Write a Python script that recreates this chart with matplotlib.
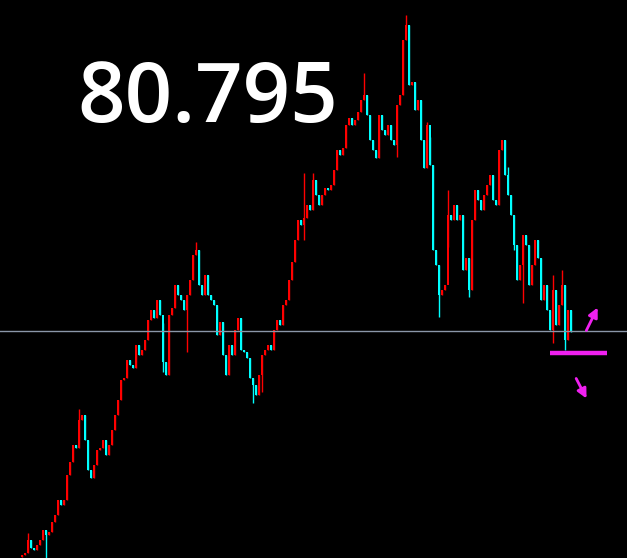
import matplotlib
matplotlib.use("Agg")
import matplotlib.pyplot as plt
import numpy as np

# closing prices, one per bar
closes = [
    78.56, 78.58, 78.71, 78.63, 78.61, 78.66, 78.71, 78.81, 78.76, 78.79,
    78.89, 78.96, 79.11, 79.06, 79.11, 79.36, 79.49, 79.66, 79.63, 79.91,
    79.96, 79.71, 79.41, 79.33, 79.46, 79.61, 79.63, 79.71, 79.56, 79.66,
    79.81, 79.96, 80.11, 80.31, 80.33, 80.51, 80.46, 80.43, 80.66, 80.56,
    80.61, 80.71, 80.91, 81.01, 80.93, 81.11, 80.96, 80.49, 80.36, 80.96,
    81.03, 81.26, 81.16, 81.11, 81.01, 81.16, 81.31, 81.56, 81.61, 81.26,
    81.16, 81.36, 81.16, 81.11, 81.06, 80.76, 80.89, 80.56, 80.36, 80.66,
    80.56, 80.81, 80.93, 80.61, 80.59, 80.53, 80.33, 80.26, 80.16, 80.36,
    80.56, 80.61, 80.66, 80.61, 80.81, 80.91, 80.86, 81.06, 81.11, 81.31,
    81.49, 81.71, 81.91, 81.86, 81.93, 82.06, 82.01, 82.31, 82.16, 82.06,
    82.16, 82.23, 82.21, 82.26, 82.41, 82.61, 82.56, 82.63, 82.86, 82.93,
    82.86, 82.91, 82.99, 83.11, 83.16, 82.96, 82.71, 82.61, 82.53, 82.96,
    82.81, 82.76, 82.86, 82.71, 82.66, 83.06, 83.16, 83.71, 83.86, 83.26,
    83.29, 83.01, 83.11, 82.71, 82.43, 82.86, 82.46, 81.61, 81.46, 81.16,
    81.21, 81.26, 81.96, 81.91, 82.06, 81.91, 81.96, 81.41, 81.53, 81.21,
    81.91, 82.21, 82.11, 82.01, 82.16, 82.26, 82.36, 82.11, 82.06, 82.61,
    82.71, 82.36, 82.16, 81.96, 81.66, 81.31, 81.46, 81.76, 81.66, 81.26,
    81.46, 81.71, 81.53, 81.11, 81.26, 81.01, 80.81, 81.21, 80.86, 81.06,
    81.26, 80.71, 81.01, 80.79,
]

# bars with long wicks: index -> (high, low); None keeps the body edge
wicks = {
    2: (78.78, None), 8: (None, 78.53), 19: (80.02, None), 47: (80.88, 80.39),
    55: (None, 80.59), 58: (81.69, None), 77: (None, 80.08), 80: (None, 80.19),
    94: (82.38, 81.71), 97: (82.38, None), 114: (83.38, None), 125: (None, 82.54),
    128: (83.96, None), 135: (82.89, None), 136: (82.74, None), 139: (None, 80.94),
    142: (82.21, 81.64), 149: (None, 81.14), 162: (82.44, None), 164: (None, 81.61),
    167: (None, 81.08), 177: (81.36, 80.68), 180: (81.41, None), 181: (None, 80.61),
}

last_price = 80.795
label = "80.795"

fig = plt.figure(figsize=(6.27, 5.58), dpi=100, facecolor="black")
ax = fig.add_axes([0, 0, 1, 1])
ax.set_facecolor("black")

n = len(closes)
opens = [closes[0] - 0.02] + closes[:-1]
x = np.arange(n)

for i in range(n):
    o, c = opens[i], closes[i]
    color = "#ff0000" if c >= o else "#00ffff"
    hi, lo = max(o, c), min(o, c)
    if i in wicks:
        h, l = wicks[i]
        hi = h if h is not None else hi
        lo = l if l is not None else lo
    ax.vlines(x[i], lo, hi, color=color, lw=1.0)
    ax.bar(x[i], c - o, bottom=o, width=0.75, color=color, linewidth=0)

ax.axhline(last_price, color="#8a96a8", lw=1)

# magenta marker line and arrows at the right edge
ax.plot([176, 195], [80.58, 80.58], color="#f020f0", lw=3.2, solid_capstyle="butt")
ax.annotate("", xy=(192.3, 81.06), xytext=(187.7, 80.78),
            arrowprops=dict(arrowstyle="-|>", color="#f020f0", lw=2, mutation_scale=14))
ax.annotate("", xy=(188.6, 80.10), xytext=(184.3, 80.35),
            arrowprops=dict(arrowstyle="-|>", color="#f020f0", lw=2, mutation_scale=14))

ax.set_xlim(-22 / 3, 605 / 3)
ax.set_ylim(78.53, 84.11)
ax.axis("off")

fig.text(77 / 627, 1 - 122 / 558, label, color="white", fontsize=60,
         family="Open Sans", fontweight="semibold", ha="left", va="baseline")

fig.savefig("out.png", dpi=100, facecolor="black")
